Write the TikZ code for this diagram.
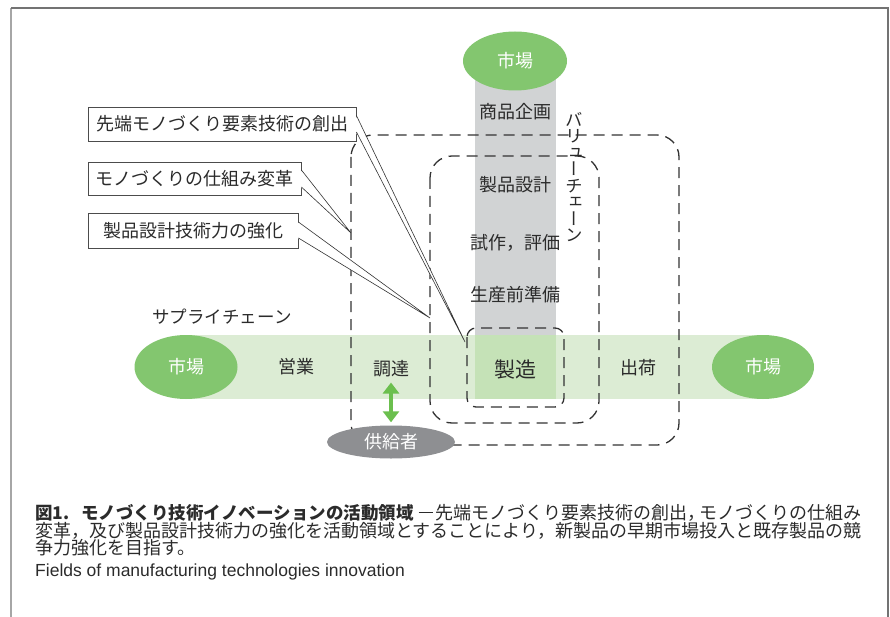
\documentclass[tikz,border=0pt]{standalone}
\usepackage{fontspec}
\setmainfont{Noto Sans CJK JP}
\newfontfamily\en{Liberation Sans}
\newfontfamily\vjp{Noto Sans CJK JP}[RawFeature={+vert}]
\usetikzlibrary{arrows.meta,calc,shapes.geometric}
\definecolor{bandgreen}{HTML}{DCECD4}
\definecolor{midgreen}{HTML}{C5E2B7}
\definecolor{mktgreen}{HTML}{83C66F}
\definecolor{arrgreen}{HTML}{6BBF4E}
\definecolor{bandgray}{HTML}{D1D3D4}
\definecolor{supgray}{HTML}{8E8F92}
\definecolor{txt}{HTML}{2B2B2B}
\definecolor{dashc}{HTML}{333333}
\begin{document}
\begin{tikzpicture}[x=1pt,y=-1pt,
 lbl/.style={font=\fontsize{18pt}{20pt}\selectfont, text=txt, inner sep=0pt},
 mkt/.style={ellipse, fill=mktgreen, inner sep=0pt, text=white, font=\fontsize{18pt}{20pt}\selectfont},
 zone/.style={draw=dashc, line width=1.3pt, dash pattern=on 11pt off 7pt, rounded corners=22pt},
 cbox/.style={draw=black!70, line width=0.8pt, fill=white, inner sep=0pt, font=\fontsize{18pt}{20pt}\selectfont, text=txt},
 ptrline/.style={draw=black!80, line width=0.6pt},
 capline/.style={anchor=base west, inner sep=0pt, text=txt, font=\fontsize{18pt}{18pt}\selectfont},
]
\useasboundingbox (0,0) rectangle (890,617);
% frame
\draw[line width=2pt, color=black!35] (11,617) -- (11,8);
\draw[line width=1.2pt, color=black!55] (11,8) -- (888,8) -- (888,617);
% bands
\fill[bandgreen] (186,335) rectangle (763,399);
\fill[bandgray] (475,61) rectangle (556,335);
\fill[midgreen] (475,335) rectangle (556,399);
% markets
\node[mkt, minimum width=103pt, minimum height=64pt] (mL) at (186,367) {市場};
\node[mkt, minimum width=102pt, minimum height=64pt] (mR) at (763,367) {市場};
\node[mkt, minimum width=104pt, minimum height=59pt] (mT) at (515,61) {市場};
% zones
\draw[zone] (351,135) rectangle (679,445);
\draw[zone] (430,156) rectangle (599,423);
\draw[zone, rounded corners=9pt] (467,328) rectangle (564,407);
% labels
\node[lbl] (plan) at (515,112) {商品企画};
\node[lbl] (design) at (515,185) {製品設計};
\node[lbl] (proto) at (515,243) {試作，評価};
\node[lbl] (prep) at (515,295) {生産前準備};
\node[lbl, font=\fontsize{21pt}{23pt}\selectfont] (mfg) at (515,370) {製造};
\node[lbl] (sales) at (296,367) {営業};
\node[lbl] (proc) at (391,369) {調達};
\node[lbl] (ship) at (638,368) {出荷};
\node[lbl, font=\fontsize{17.5pt}{20pt}\selectfont] (sc) at (222,317) {サプライチェーン};
\node[lbl, font=\vjp\fontsize{17.5pt}{16.5pt}\selectfont, align=center] (vc) at (574,177) {バ\\リ\\ュ\\ー\\チ\\ェ\\ー\\ン};
% supplier
\node[ellipse, fill=supgray, minimum width=128pt, minimum height=33pt, inner sep=0pt, text=white, font=\fontsize{18pt}{20pt}\selectfont] (sup) at (391,442) {供給者};
\draw[arrgreen, line width=4pt, {Triangle[width=16pt,length=11pt]}-{Triangle[width=16pt,length=11pt]}, shorten <=5pt, shorten >=3pt] (proc.south) -- (sup.north);
% callouts
\node[cbox, minimum width=268pt, minimum height=34pt] (c1) at (222,124) {先端モノづくり要素技術の創出};
\node[cbox, minimum width=213pt, minimum height=33pt] (c2) at (194.5,178.5) {モノづくりの仕組み変革};
\node[cbox, minimum width=210pt, minimum height=35pt] (c3) at (193,230.5) {製品設計技術力の強化};
\coordinate (t1) at (465,342);
\coordinate (t2) at (351,233);
\coordinate (t3) at (430,318);
\fill[white] ($(c1.east)+(-0.8,-8.5)$) -- (t1) -- ($(c1.east)+(-0.8,8)$) -- cycle;
\draw[ptrline] ($(c1.east)+(0,-8.5)$) -- (t1) -- ($(c1.east)+(0,8)$);
\fill[white] ($(c2.east)+(-0.8,-8.5)$) -- (t2) -- ($(c2.east)+(-0.8,8.5)$) -- cycle;
\draw[ptrline] ($(c2.east)+(0,-8.5)$) -- (t2) -- ($(c2.east)+(0,8.5)$);
\fill[white] ($(c3.east)+(-0.8,-8.5)$) -- (t3) -- ($(c3.east)+(-0.8,7.5)$) -- cycle;
\draw[ptrline] ($(c3.east)+(0,-8.5)$) -- (t3) -- ($(c3.east)+(0,7.5)$);
% caption
\node[capline] (cap1) at (35,519) {{\fontsize{17.5pt}{18pt}\selectfont\bfseries 図1.\hspace{12pt}モノづくり技術イノベーションの活動領域}\hspace{5pt}\rule[6pt]{14pt}{0.8pt}\hspace{3pt}先端モノづくり要素技術の創出，\kern-6pt モノづくりの仕組み};
\node[capline] (cap2) at (35,537) {変革，及び製品設計技術力の強化を活動領域とすることにより，新製品の早期市場投入と既存製品の競};
\node[capline] (cap3) at (35,554) {争力強化を目指す。};
\node[capline, font=\en\fontsize{17.5pt}{18pt}\selectfont] (cap4) at (35,576) {Fields of manufacturing technologies innovation};
\end{tikzpicture}
\end{document}
